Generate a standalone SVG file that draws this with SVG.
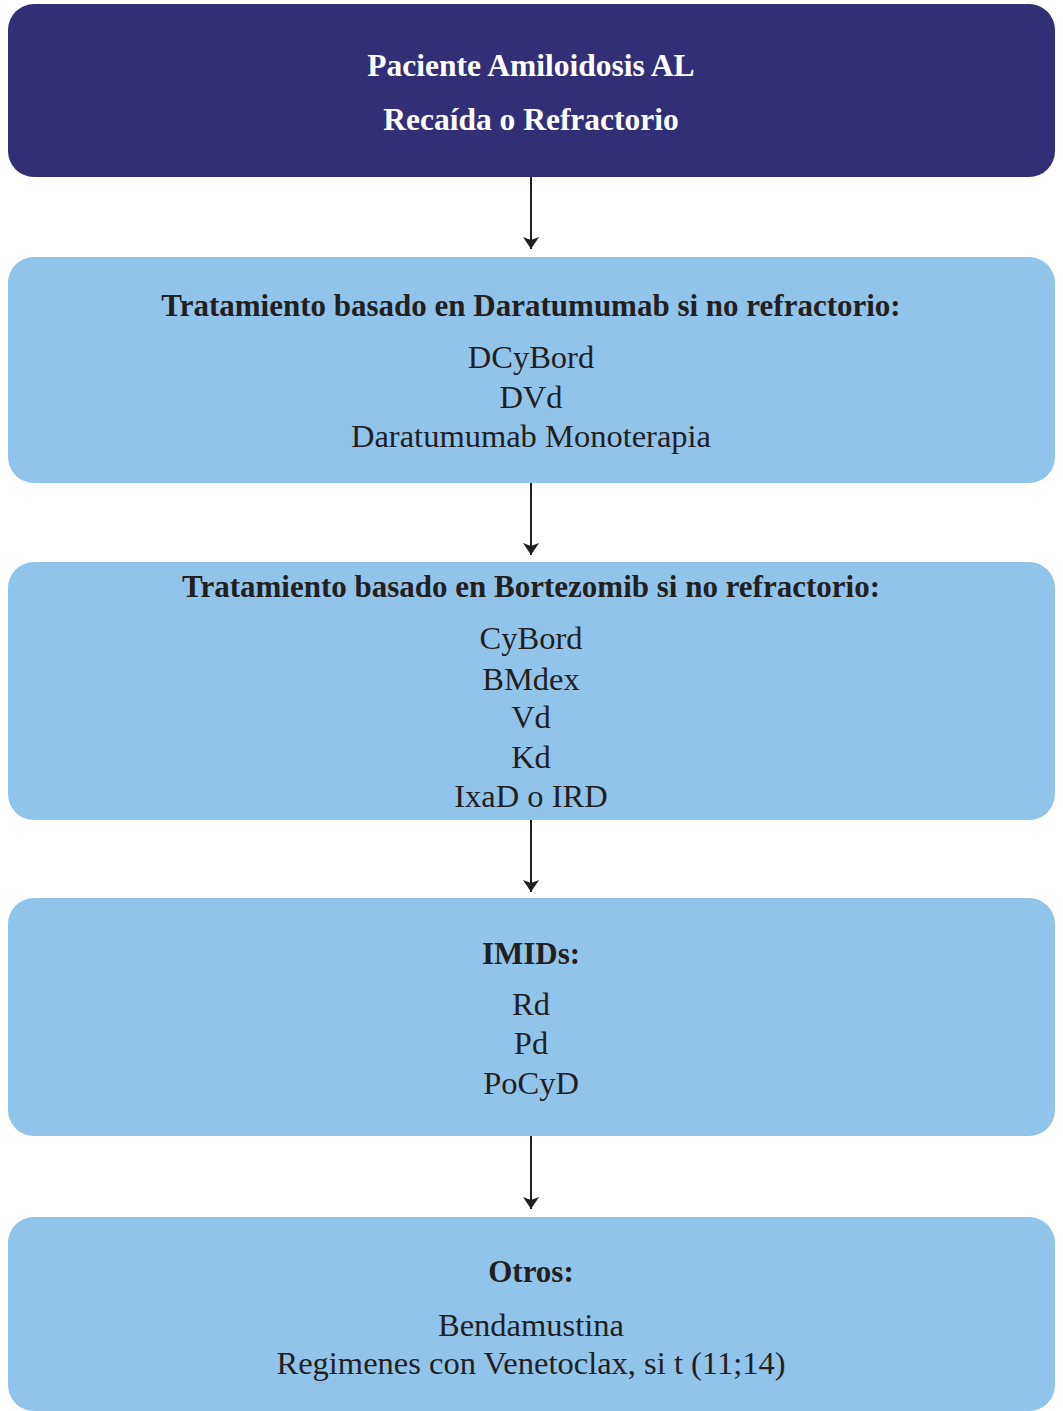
<svg xmlns="http://www.w3.org/2000/svg" width="1063" height="1411" viewBox="0 0 1063 1411">
<style>
.dark{fill:#332F77}
.light{fill:#91C4EB}
text{font-family:"Liberation Serif","Times New Roman",serif;text-anchor:middle;fill:#231F20}
.t{font-size:31.5px;font-weight:bold;fill:#FFFFFF}
.h{font-size:31px;font-weight:bold}
.r{font-size:32.5px}
.conn line{stroke:#231F20;stroke-width:2}
</style>
<defs>
<marker id="ah" viewBox="0 0 12 16" refX="12" refY="8" markerWidth="12" markerHeight="16" markerUnits="userSpaceOnUse" orient="auto">
<path d="M0,0 L12,8 L0,16 L3,8 z" fill="#231F20"/>
</marker>
</defs>
<g id="n1">
<rect class="dark" x="8" y="4" width="1047" height="173" rx="26"/>
<text class="t" x="531" y="76">Paciente Amiloidosis AL</text>
<text class="t" x="531" y="130">Recaída o Refractorio</text>
</g>
<g id="n2">
<rect class="light" x="8" y="257" width="1047" height="226" rx="26"/>
<text class="h" x="531" y="316">Tratamiento basado en Daratumumab si no refractorio:</text>
<text class="r" x="531" y="368">DCyBord</text>
<text class="r" x="531" y="408">DVd</text>
<text class="r" x="531" y="447">Daratumumab Monoterapia</text>
</g>
<g id="n3">
<rect class="light" x="8" y="562" width="1047" height="258" rx="26"/>
<text class="h" x="531" y="597">Tratamiento basado en Bortezomib si no refractorio:</text>
<text class="r" x="531" y="649">CyBord</text>
<text class="r" x="531" y="690">BMdex</text>
<text class="r" x="531" y="728">Vd</text>
<text class="r" x="531" y="768">Kd</text>
<text class="r" x="531" y="807">IxaD o IRD</text>
</g>
<g id="n4">
<rect class="light" x="8" y="898" width="1047" height="238" rx="26"/>
<text class="h" x="531" y="964">IMIDs:</text>
<text class="r" x="531" y="1015">Rd</text>
<text class="r" x="531" y="1054">Pd</text>
<text class="r" x="531" y="1094">PoCyD</text>
</g>
<g id="n5">
<rect class="light" x="8" y="1217" width="1047" height="194" rx="26"/>
<text class="h" x="531" y="1282">Otros:</text>
<text class="r" x="531" y="1336">Bendamustina</text>
<text class="r" x="531" y="1374">Regimenes con Venetoclax, si t (11;14)</text>
</g>
<g id="connectors" class="conn">
<line x1="531" y1="177" x2="531" y2="249" marker-end="url(#ah)"/>
<line x1="531" y1="483" x2="531" y2="555" marker-end="url(#ah)"/>
<line x1="531" y1="820" x2="531" y2="892" marker-end="url(#ah)"/>
<line x1="531" y1="1136" x2="531" y2="1209" marker-end="url(#ah)"/>
</g>
</svg>
